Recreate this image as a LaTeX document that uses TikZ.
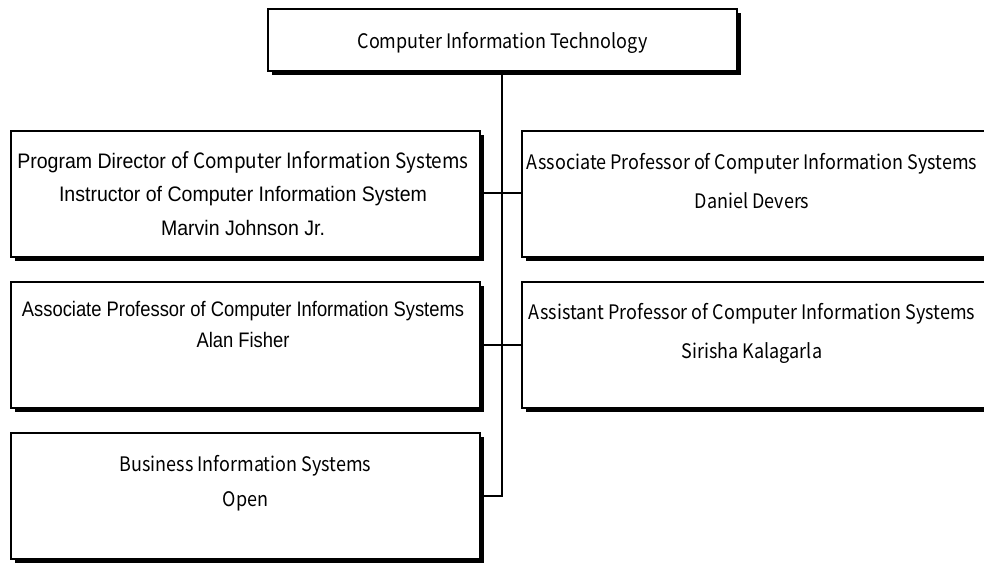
\documentclass[tikz,border=0pt]{standalone}
\usepackage{fontspec}
\setmainfont{Liberation Sans}
\newfontfamily\kfont[FakeStretch=0.90]{Noto Sans CJK KR}
\newfontfamily\nfont[FakeStretch=0.93]{Liberation Sans}
\newfontfamily\nnfont[FakeStretch=0.875]{Liberation Sans}
\newcommand{\ksz}{\kfont\fontsize{20}{39}\selectfont}
\newcommand{\nsz}{\nfont\fontsize{21}{33.5}\selectfont}
\begin{document}
\begin{tikzpicture}[x=1pt,y=-1pt,
  boxline/.style={line width=1.3pt},
  conn/.style={line width=1.3pt},
  ktext/.style={font=\ksz, align=center, inner sep=0pt},
  ntext/.style={font=\nsz, align=center, inner sep=0pt},
]
\useasboundingbox (0,0) rectangle (984,562);
\newcommand{\orgbox}[5]{%
  \fill[black] (#2+4,#3+4) rectangle (#4+4,#5+4);
  \draw[boxline, fill=white] (#2,#3) rectangle (#4,#5);
  \coordinate (#1-nw) at (#2,#3);
}
\orgbox{top}{268}{9}{737}{71}
\orgbox{l1}{11}{131}{480}{257}
\orgbox{l2}{11}{282}{480}{408}
\orgbox{l3}{11}{433}{480}{559}
\orgbox{r1}{522}{131}{992}{257}
\orgbox{r2}{522}{282}{992}{408}

\node[ktext] (ttop) at (502.5,43) {Computer Information Technology};
\node[ntext, anchor=north] (tl1) at (243,151)
  {Program Director {\kfont of Computer Information Systems}\\
   Instructor of Computer Information System\\
   Marvin Johnson Jr.};
\node[ntext, anchor=north, font=\nnfont\fontsize{21}{31}\selectfont] (tl2) at (243,301)
  {Associate Professor of Computer Information Systems\\Alan Fisher};
\node[ktext, anchor=north, font=\kfont\fontsize{20}{35}\selectfont] (tl3) at (245.5,455)
  {Business Information Systems\\Open};
\node[ktext, anchor=north] (tr1) at (752,153)
  {Associate Professor of Computer Information Systems\\Daniel Devers};
\node[ktext, anchor=north] (tr2) at (752,303)
  {Assistant Professor of Computer Information Systems\\Sirisha Kalagarla};

\coordinate (vtop) at (502,71);
\coordinate (j3) at (502,496);
\draw[conn] (vtop) -- (j3) -- (480,496);
\draw[conn] (480,193) -- (522,193);
\draw[conn] (480,345) -- (522,345);
\end{tikzpicture}
\end{document}
